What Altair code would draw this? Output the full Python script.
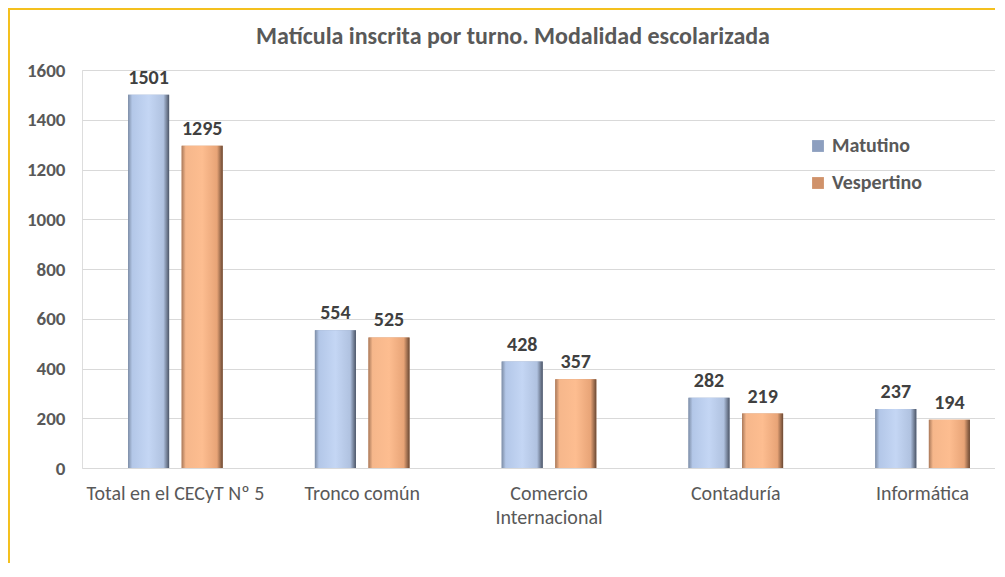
import altair as alt
import pandas as pd

categories = ["Total en el CECyT Nº 5", "Tronco común", "Comercio Internacional", "Contaduría", "Informática"]
series = ["Matutino", "Vespertino"]
matutino = [1501, 554, 428, 282, 237]
vespertino = [1295, 525, 357, 219, 194]
y_ticks = [0, 200, 400, 600, 800, 1000, 1200, 1400, 1600]
title_text = "Matícula inscrita por turno. Modalidad escolarizada"

rows = []
for c, m, v in zip(categories, matutino, vespertino):
    rows.append({"categoria": c, "turno": "Matutino", "valor": m})
    rows.append({"categoria": c, "turno": "Vespertino", "valor": v})
df = pd.DataFrame(rows)

FONT = "Carlito, Lato, sans-serif"
TXT = "#595959"
W, H = 913, 398

x_enc = alt.X(
    "categoria:N", sort=categories,
    scale=alt.Scale(range=[0, 934], paddingInner=0, paddingOuter=0),
    axis=alt.Axis(title=None, labelAngle=0, labelFont=FONT, labelFontSize=20, labelColor=TXT,
                  labelFontWeight=500,
                  labelPadding=15, ticks=False, domain=False, labelBaseline="top", labelLineHeight=24,
                  labelExpr="datum.label == 'Comercio Internacional' ? ['Comercio', 'Internacional'] : datum.label"),
)
xo_enc = alt.XOffset("turno:N", sort=series, scale=alt.Scale(paddingInner=0.234, paddingOuter=0.86))
y_enc = alt.Y(
    "valor:Q", scale=alt.Scale(domain=[0, 1600]),
    axis=alt.Axis(title=None, values=y_ticks, format="d", labelFont=FONT, labelFontSize=19,
                  labelFontWeight="bold",
                  labelColor=TXT, labelPadding=17, ticks=False, domain=False,
                  gridColor="#d9d9d9", gridWidth=1),
)

base = alt.Chart(df)

flat = base.mark_bar().encode(
    x=x_enc, xOffset=xo_enc, y=y_enc,
    color=alt.Color("turno:N", sort=series,
                    scale=alt.Scale(domain=series, range=["#8d9fbf", "#d0926a"]),
                    legend=alt.Legend(title=None, orient="none", legendX=726, legendY=66,
                                      symbolType="square", symbolSize=140, symbolStrokeWidth=0,
                                      labelFont=FONT, labelFontSize=20, labelFontWeight="bold",
                                      labelColor=TXT, rowPadding=17, labelOffset=4)),
)

blue_grad = alt.Gradient(gradient="linear", x1=0, x2=1, y1=0, y2=0, stops=[
    alt.GradientStop(color="#7d8da6", offset=0),
    alt.GradientStop(color="#b3c7e8", offset=0.1),
    alt.GradientStop(color="#c4d6f4", offset=0.5),
    alt.GradientStop(color="#b0c2e0", offset=0.86),
    alt.GradientStop(color="#4c5566", offset=1),
])
orange_grad = alt.Gradient(gradient="linear", x1=0, x2=1, y1=0, y2=0, stops=[
    alt.GradientStop(color="#a9795a", offset=0),
    alt.GradientStop(color="#f6b78b", offset=0.1),
    alt.GradientStop(color="#fdbd90", offset=0.5),
    alt.GradientStop(color="#e8a477", offset=0.86),
    alt.GradientStop(color="#6a4833", offset=1),
])

bar_m = base.transform_filter("datum.turno == 'Matutino'").mark_bar(fill=blue_grad).encode(
    x=x_enc, xOffset=xo_enc, y=y_enc)
bar_v = base.transform_filter("datum.turno == 'Vespertino'").mark_bar(fill=orange_grad).encode(
    x=x_enc, xOffset=xo_enc, y=y_enc)

labels = base.mark_text(baseline="bottom", dy=-7, font=FONT, fontSize=20, fontWeight="bold",
                        color="#404040").encode(
    x=x_enc, xOffset=xo_enc, y=y_enc, text=alt.Text("valor:Q"))

one = pd.DataFrame({"t": [title_text]})
title = alt.Chart(one).mark_text(font=FONT, fontSize=24, fontWeight="bold", color=TXT,
                                 baseline="middle", align="center").encode(
    x=alt.value(431), y=alt.value(-33), text="t:N")

top_border = alt.Chart(one).mark_rule(color="#f4c01e", strokeWidth=2).encode(
    x=alt.value(-74), x2=alt.value(W), y=alt.value(-61))
left_border = alt.Chart(one).mark_rule(color="#f4c01e", strokeWidth=2).encode(
    x=alt.value(-73), y=alt.value(-62), y2=alt.value(H + 100))

chart = alt.layer(flat, bar_m, bar_v, labels, title, top_border, left_border).properties(
    width=W, height=H,
    autosize=alt.AutoSizeParams(type="none"),
    padding={"left": 74, "top": 62, "right": 0, "bottom": 95},
).configure_view(stroke=None).configure(background="white")

chart.save("out.html", embed_options={"renderer": "svg", "actions": False})
